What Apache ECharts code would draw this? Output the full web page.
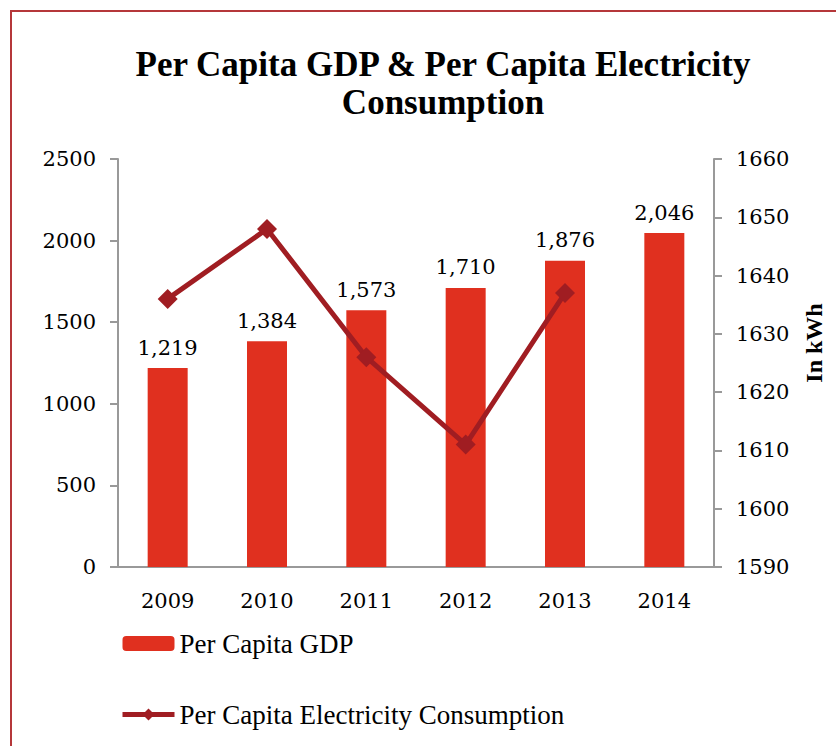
<!DOCTYPE html>
<html>
<head>
<meta charset="utf-8">
<script src="https://cdn.jsdelivr.net/npm/echarts@6/dist/echarts.min.js"></script>
<style>
  html, body { margin: 0; padding: 0; background: #fff; }
  #chart { width: 836px; height: 746px; }
</style>
</head>
<body>
<div id="chart"></div>
<script>
const years = ['2009', '2010', '2011', '2012', '2013', '2014']
const gdp = [1219, 1384, 1573, 1710, 1876, 2046]
const electricity = [1636, 1648, 1626, 1611, 1637, null]

const serif = '"DejaVu Serif", "Liberation Serif", serif'
const times = '"Liberation Serif", serif'

const myChart = echarts.init(document.getElementById('chart'), null, { renderer: 'svg' })
myChart.setOption({
  animation: false,
  title: {
    text: 'Per Capita GDP & Per Capita Electricity\nConsumption',
    left: 438,
    textAlign: 'center',
    top: 40,
    textStyle: {
      fontFamily: times,
      fontWeight: 'bold',
      fontSize: 35,
      lineHeight: 38,
      color: '#000'
    }
  },
  graphic: [{
    type: 'rect',
    shape: { x: 11, y: 11, width: 900, height: 900 },
    style: { fill: 'none', stroke: '#b5373a', lineWidth: 2 }
  }],
  grid: { left: 118, right: 122, top: 159, bottom: 179 },
  legend: {
    orient: 'vertical',
    left: 115,
    top: 625,
    itemWidth: 52,
    itemHeight: 15,
    itemGap: 44,
    lineStyle: { width: 5 },
    textStyle: { fontFamily: times, fontSize: 27, color: '#000' },
    data: ['Per Capita GDP', 'Per Capita Electricity Consumption']
  },
  xAxis: {
    type: 'category',
    data: years,
    axisLine: { lineStyle: { color: '#999', width: 2 } },
    axisTick: { length: 8, lineStyle: { color: '#999', width: 2 } },
    axisLabel: { fontFamily: serif, fontSize: 21, color: '#000', margin: 23 }
  },
  yAxis: [
    {
      type: 'value',
      min: 0, max: 2500, interval: 500,
      splitLine: { show: false },
      axisLine: { show: true, lineStyle: { color: '#999', width: 2 } },
      axisTick: { show: true, length: 8, lineStyle: { color: '#999', width: 2 } },
      axisLabel: { fontFamily: serif, fontSize: 21, color: '#000', margin: 22, formatter: v => String(v) }
    },
    {
      type: 'value',
      min: 1590, max: 1660, interval: 10,
      name: 'In kWh',
      nameLocation: 'middle',
      nameGap: 88,
      nameRotate: 90,
      nameTextStyle: { fontFamily: times, fontWeight: 'bold', fontSize: 24, color: '#000', padding: [0, 0, 0, 40] },
      splitLine: { show: false },
      axisLine: { show: true, lineStyle: { color: '#999', width: 2 } },
      axisTick: { show: true, length: 8, lineStyle: { color: '#999', width: 2 } },
      axisLabel: { fontFamily: serif, fontSize: 21, color: '#000', margin: 22, formatter: v => String(v) }
    }
  ],
  series: [
    {
      name: 'Per Capita GDP',
      type: 'bar',
      data: gdp,
      barWidth: 40,
      itemStyle: { color: '#e0301f' },
      label: {
        show: true,
        position: 'top',
        distance: 10,
        fontFamily: serif,
        fontSize: 21,
        color: '#000',
        formatter: p => p.value.toLocaleString('en-US')
      }
    },
    {
      name: 'Per Capita Electricity Consumption',
      type: 'line',
      yAxisIndex: 1,
      data: electricity,
      symbol: 'diamond',
      symbolSize: 20,
      lineStyle: { color: '#a01d22', width: 5 },
      itemStyle: { color: '#a01d22' }
    }
  ]
})
</script>
</body>
</html>
